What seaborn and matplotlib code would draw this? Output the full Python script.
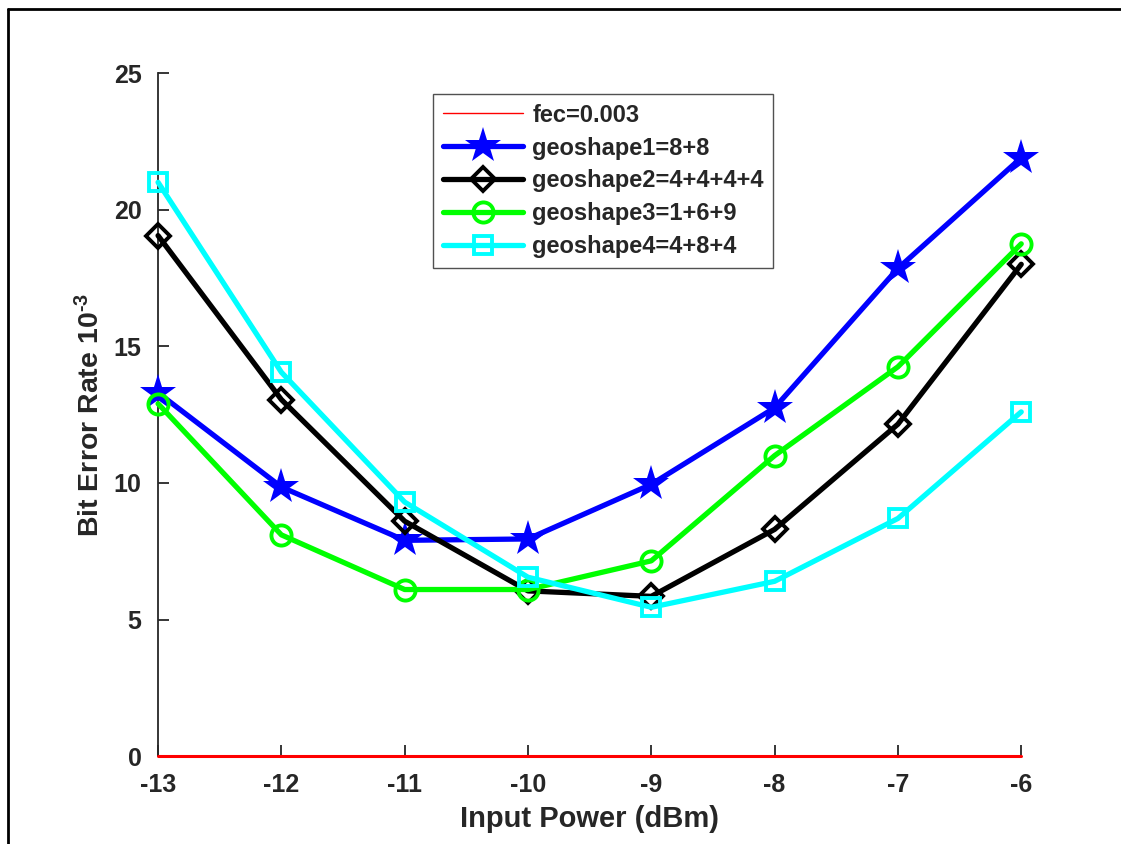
import numpy as np
import pandas as pd
import matplotlib
matplotlib.use("Agg")
import matplotlib.pyplot as plt
import seaborn as sns
from matplotlib.lines import Line2D

sns.set_theme(style="white")
plt.rcParams["font.family"] = ["Liberation Sans", "DejaVu Sans"]
plt.rcParams["font.weight"] = "bold"
plt.rcParams["axes.unicode_minus"] = False
plt.rcParams["mathtext.default"] = "bf"
plt.rcParams["mathtext.fontset"] = "custom"
plt.rcParams["mathtext.bf"] = "Liberation Sans:bold"
plt.rcParams["mathtext.rm"] = "Liberation Sans:bold"

# --- data -------------------------------------------------------------------
power_dbm = [-13, -12, -11, -10, -9, -8, -7, -6]
fec_limit = 0.003
geoshape1 = [13.3, 9.85, 7.9, 7.95, 9.95, 12.75, 17.85, 21.9]
geoshape2 = [19.05, 13.05, 8.6, 6.05, 5.85, 8.3, 12.15, 18.0]
geoshape3 = [12.9, 8.1, 6.1, 6.1, 7.15, 11.0, 14.25, 18.75]
geoshape4 = [21.0, 14.05, 9.3, 6.55, 5.45, 6.4, 8.7, 12.6]

labels = ["geoshape1=8+8", "geoshape2=4+4+4+4", "geoshape3=1+6+9", "geoshape4=4+8+4"]
series = [geoshape1, geoshape2, geoshape3, geoshape4]
colors = ["#0000ff", "#000000", "#00ff00", "#00ffff"]
markers = ["*", "D", "o", "s"]
msizes = [27, 12, 14.5, 12.5]
filled = [True, False, False, False]

df = pd.DataFrame({"power": power_dbm * len(series),
                   "ber": np.concatenate(series),
                   "name": np.repeat(labels, len(power_dbm))})

fig = plt.figure(figsize=(11.21, 8.44), dpi=100)
ax = fig.add_axes([0.141, 0.104, 0.770, 0.8095])

# fec threshold line
fec_df = pd.DataFrame({"power": power_dbm, "ber": [fec_limit] * len(power_dbm)})
sns.lineplot(data=fec_df, x="power", y="ber", ax=ax, color="#ff0000", lw=2.2,
             label="fec=0.003", zorder=3, clip_on=False)

for lab, col, mk, ms, fl in zip(labels, colors, markers, msizes, filled):
    sub = df[df["name"] == lab]
    sns.lineplot(data=sub, x="power", y="ber", ax=ax, color=col, lw=3.8,
                 marker=mk, markersize=ms,
                 markerfacecolor=col if fl else "none",
                 markeredgecolor=col, markeredgewidth=0 if fl else 2.8,
                 label=lab, zorder=4, clip_on=False)

ax.set_xlim(-13, -6)
ax.set_ylim(0, 25)
ax.set_xticks(power_dbm)
ax.set_yticks([0, 5, 10, 15, 20, 25])
ax.tick_params(direction="in", length=8, width=1.3, labelsize=18, colors="#262626",
               bottom=True, left=True)
ax.tick_params(axis="x", pad=12)
ax.tick_params(axis="y", pad=12)
for lbl in ax.get_xticklabels() + ax.get_yticklabels():
    lbl.set_fontweight("bold")
for s in ["top", "right"]:
    ax.spines[s].set_visible(False)
for s in ["left", "bottom"]:
    ax.spines[s].set_color("#262626")
    ax.spines[s].set_linewidth(1.3)

ax.set_xlabel("Input Power (dBm)", fontsize=21, fontweight="bold", color="#262626", labelpad=6)
ax.set_ylabel("Bit Error Rate 10$^{\\text{-3}}$", fontsize=20.5, fontweight="bold",
              color="#262626", labelpad=6)

# legend: thin red line for fec, thick lines for others
handles = [Line2D([], [], color="#ff0000", lw=1.0)]
for col, mk, ms, fl in zip(colors, markers, msizes, filled):
    handles.append(Line2D([], [], color=col, lw=3.8, marker=mk, markersize=ms,
                          markerfacecolor=col if fl else "none",
                          markeredgewidth=0 if fl else 2.8))
leg = ax.legend(handles, ["fec=0.003"] + labels, loc="upper left",
                bbox_to_anchor=(0.3187, 0.969), prop={"weight": "bold", "size": 17},
                frameon=True, fancybox=False, edgecolor="#262626", handlelength=3.4,
                borderpad=0.4, labelspacing=0.42, handletextpad=0.4, borderaxespad=0)
leg.get_frame().set_linewidth(1.0)

# outer frame of the screenshot
fig.add_artist(Line2D([8 / 1121, 8 / 1121], [0, 1 - 9 / 844], color="black", lw=2.0,
                      transform=fig.transFigure))
fig.add_artist(Line2D([8 / 1121, 1], [1 - 9 / 844, 1 - 9 / 844], color="black", lw=2.0,
                      transform=fig.transFigure))

fig.savefig("out.png", dpi=100)
